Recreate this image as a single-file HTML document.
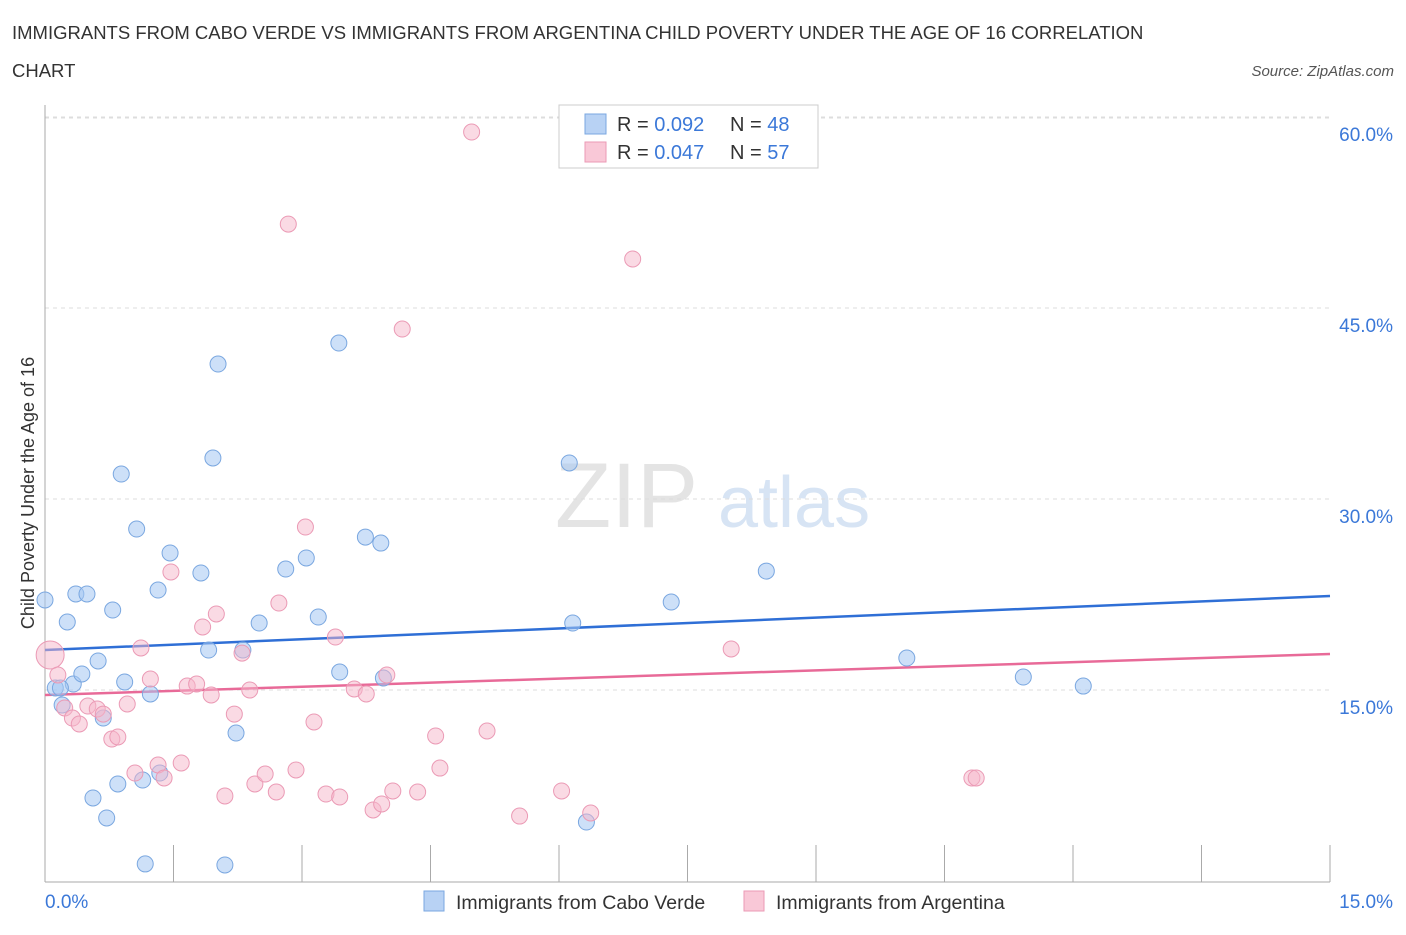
<!DOCTYPE html>
<html><head><meta charset="utf-8"><style>
body{margin:0;background:#fff;font-family:"Liberation Sans",sans-serif;}
svg text{font-family:"Liberation Sans",sans-serif;}
</style></head><body>
<svg id="chart" width="1406" height="930" xmlns="http://www.w3.org/2000/svg">
<text x="12" y="39" font-size="18.5" fill="#333">IMMIGRANTS FROM CABO VERDE VS IMMIGRANTS FROM ARGENTINA CHILD POVERTY UNDER THE AGE OF 16 CORRELATION</text>
<text x="12" y="77" font-size="18.5" fill="#333">CHART</text>
<text x="1394" y="76" font-size="15" fill="#555" font-style="italic" text-anchor="end">Source: ZipAtlas.com</text>
<text transform="translate(34,493) rotate(-90)" font-size="18" fill="#333" text-anchor="middle">Child Poverty Under the Age of 16</text>
<text x="555" y="527" font-size="92" fill="#e4e4e4" font-family="Liberation Serif">ZIP</text>
<text x="718" y="527" font-size="72" fill="#d7e4f4">atlas</text>
<g id="grid"></g><g id="axes"></g><g id="trend"></g><g id="pts"></g>
<g>
<rect x="559" y="105" width="259" height="63" fill="#fff" stroke="#ccc"/>
<rect x="585" y="114" width="21" height="20" fill="#b8d2f4" stroke="#7aa7e0"/>
<rect x="585" y="142" width="21" height="20" fill="#f9c8d7" stroke="#eb9ab5"/>
<text x="617" y="131" font-size="20" fill="#333">R = <tspan fill="#3b78d8">0.092</tspan></text>
<text x="730" y="131" font-size="20" fill="#333">N = <tspan fill="#3b78d8">48</tspan></text>
<text x="617" y="159" font-size="20" fill="#333">R = <tspan fill="#3b78d8">0.047</tspan></text>
<text x="730" y="159" font-size="20" fill="#333">N = <tspan fill="#3b78d8">57</tspan></text>
</g>
<g>
<rect x="424" y="891" width="20" height="20" fill="#b8d2f4" stroke="#7aa7e0"/>
<text x="456" y="909" font-size="19.5" fill="#333">Immigrants from Cabo Verde</text>
<rect x="744" y="891" width="20" height="20" fill="#f9c8d7" stroke="#eb9ab5"/>
<text x="776" y="909" font-size="19.5" fill="#333">Immigrants from Argentina</text>
</g>
<text x="45" y="908" font-size="19" fill="#3b78d8">0.0%</text>
<text x="1393" y="908" font-size="19" fill="#3b78d8" text-anchor="end">15.0%</text>
</svg>
<script>
const yTicks=[15,30,45,60];
const yTickLabels=["15.0%","30.0%","45.0%","60.0%"];
const xTicks=[0,1.5,3,4.5,6,7.5,9,10.5,12,13.5,15];
const blueX=[0.00,0.26,0.36,0.49,0.12,0.20,0.33,0.43,0.62,0.79,0.89,0.93,1.07,1.23,1.32,1.46,1.82,1.91,1.96,2.02,2.31,2.50,2.23,2.81,3.05,3.19,3.43,3.44,3.74,3.92,3.95,6.12,6.16,7.31,8.42,10.06,11.42,12.12,0.56,0.72,0.85,1.14,1.34,1.17,2.10,6.32,0.68,0.18];
const blueY=[22.07,20.34,22.54,22.54,15.16,13.82,15.47,16.26,17.28,21.28,31.96,15.63,27.64,14.69,22.85,25.76,24.19,18.14,33.22,40.60,18.14,20.26,11.62,24.50,25.37,20.73,42.25,16.41,27.01,26.54,15.94,32.83,20.26,21.91,24.34,17.51,16.02,15.31,6.52,4.95,7.62,7.93,8.48,1.34,1.26,4.63,12.80,15.16];
const pinkX=[0.06,0.15,0.23,0.32,0.40,0.50,0.61,0.68,0.78,0.85,0.96,1.05,1.12,1.23,1.32,1.39,1.47,1.59,1.66,1.77,1.84,1.94,2.00,2.10,2.21,2.30,2.39,2.45,2.57,2.70,2.73,2.84,2.93,3.04,3.14,3.28,3.39,3.44,3.61,3.75,3.83,3.93,3.99,4.06,4.17,4.35,4.56,4.61,4.98,5.16,5.54,6.03,6.37,6.86,8.01,10.82,10.87];
const pinkY=[17.75,16.18,13.59,12.80,12.33,13.74,13.51,13.11,11.15,11.31,13.90,8.48,18.30,15.86,9.11,8.09,24.27,9.27,15.31,15.47,19.95,14.61,20.97,6.68,13.11,17.90,15.00,7.62,8.40,6.99,21.83,51.59,8.72,27.80,12.49,6.83,19.16,6.60,15.08,14.69,5.58,6.05,16.18,7.07,43.35,6.99,11.39,8.87,58.82,11.78,5.10,7.07,5.34,48.85,18.22,8.09,8.09];
const blueTrend=[18.14,22.38];
const pinkTrend=[14.61,17.83];
const NS="http://www.w3.org/2000/svg";
const X0=45,X1=1330,Y0=881,YPER=191/15;
const sx=v=>X0+(v/15)*(X1-X0);
const sy=v=>Y0-v*YPER;
function mk(tag,attrs,parent){const e=document.createElementNS(NS,tag);for(const k in attrs)e.setAttribute(k,attrs[k]);document.getElementById(parent).appendChild(e);return e;}
let g=mk('line',{x1:45,y1:118,x2:1330,y2:118,stroke:'#ddd','stroke-dasharray':'4,4'},'grid');


yTicks.forEach((t,i)=>{
 const l=mk('line',{x1:45,y1:sy(t),x2:1330,y2:sy(t),stroke:'#ddd','stroke-dasharray':'4,4'},'grid');
 
 
 const tx=mk('text',{x:1393,y:sy(t)+24,'font-size':19,fill:'#3b78d8','text-anchor':'end'},'grid');
 tx.textContent=yTickLabels[i];
 
 
});
let a=mk('line',{x1:45,y1:105,x2:45,y2:882,stroke:'#aaa'},'axes');


a=mk('line',{x1:45,y1:882,x2:1330,y2:882,stroke:'#aaa'},'axes');


xTicks.forEach(t=>{
 const l=mk('line',{x1:sx(t),y1:845,x2:sx(t),y2:882,stroke:'#aaa'},'axes');
 
 
});
function pts(xs,ys,fill,stroke,name){
 xs.forEach((x,i)=>{
  const big=(name==='argentina-point'&&i===0);
  const c=mk('circle',{cx:sx(x),cy:sy(ys[i]),r:big?14:8,fill:fill,stroke:stroke,'stroke-width':1},'pts');
  
  
 });
}
pts(blueX,blueY,'rgba(164,198,242,0.55)','#7aa7e0','cabo-verde-point');
pts(pinkX,pinkY,'rgba(246,182,202,0.5)','#eb9ab5','argentina-point');
let t1=mk('line',{x1:sx(0),y1:sy(blueTrend[0]),x2:sx(15),y2:sy(blueTrend[1]),stroke:'#2f6fd6','stroke-width':2.5},'trend');


let t2=mk('line',{x1:sx(0),y1:sy(pinkTrend[0]),x2:sx(15),y2:sy(pinkTrend[1]),stroke:'#e86a98','stroke-width':2.5},'trend');


</script>
</body></html>
